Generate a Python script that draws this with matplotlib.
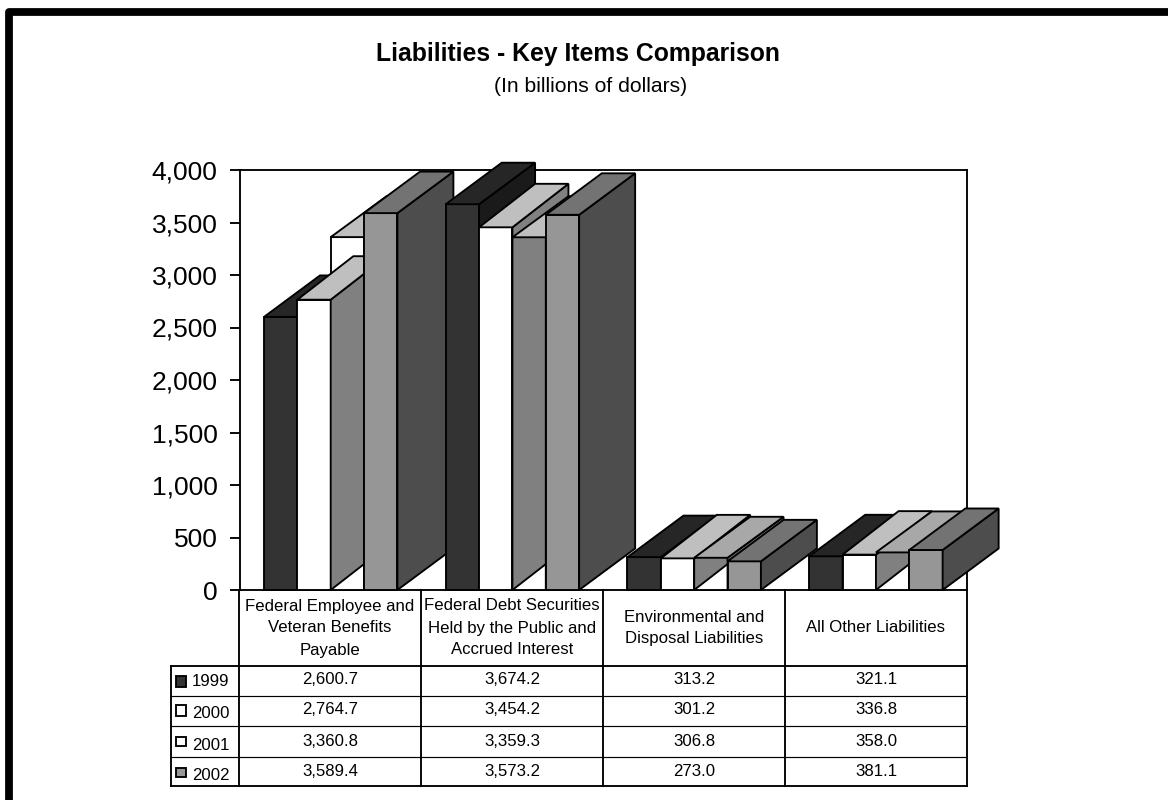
import matplotlib
matplotlib.use('Agg')
import matplotlib.pyplot as plt
from matplotlib.patches import Polygon, Rectangle

plt.rcParams['font.family'] = ['Liberation Sans', 'DejaVu Sans']

#__Datos__###############################
categorias = ['Federal Employee and\nVeteran Benefits\nPayable',
              'Federal Debt Securities\nHeld by the Public and\nAccrued Interest',
              'Environmental and\nDisposal Liabilities',
              'All Other Liabilities']
anios = ['1999', '2000', '2001', '2002']
v1999 = [2600.7, 3674.2, 313.2, 321.1]
v2000 = [2764.7, 3454.2, 301.2, 336.8]
v2001 = [3360.8, 3359.3, 306.8, 358.0]
v2002 = [3589.4, 3573.2, 273.0, 381.1]
yticks = [0, 500, 1000, 1500, 2000, 2500, 3000, 3500, 4000]
#########################################

#__Estilo__##############################
# (frente, arriba, costado)
c1999 = ('#333333', '#262626', '#1a1a1a')
c2000 = ('#ffffff', '#bfbfbf', '#808080')
c2001 = ('#ffffff', '#bfbfbf', '#808080')
c2002 = ('#969696', '#737373', '#4d4d4d')
top2001 = ['#bfbfbf', '#bfbfbf', '#a8a8a8', '#a8a8a8']
ANCHO = 0.1835
OFFSET = 0.132
DX = 56/181.75
DY1 = 41.5/0.105
DY2 = 43.5/0.105
DY3 = 41/0.105
LW = 1.35
#########################################

W, H = 1168, 800
fig = plt.figure(figsize=(W/100, H/100), dpi=100, facecolor='white')
ax = fig.add_axes([240/W, 1-590/H, 727/W, 420/H])
ax.set_xlim(0, 4)
ax.set_ylim(0, 4000)

# capa en pixeles para marco y tabla
capa = fig.add_axes([0, 0, 1, 1], zorder=5)
capa.set_xlim(0, W)
capa.set_ylim(H, 0)
capa.axis('off')
capa.patch.set_alpha(0)


def poly(pts, color):
    ax.add_patch(Polygon(pts, closed=True, facecolor=color, edgecolor='black',
                         linewidth=LW, joinstyle='miter', clip_on=False, zorder=4))


def frente(x, v, col):
    poly([(x, 0), (x+ANCHO, 0), (x+ANCHO, v), (x, v)], col[0])


def arriba(x, v, col, dy):
    poly([(x, v), (x+ANCHO, v), (x+ANCHO+DX, v+dy), (x+DX, v+dy)], col[1])


def costado(x, v, col, dy):
    poly([(x+ANCHO, 0), (x+ANCHO+DX, dy), (x+ANCHO+DX, v+dy), (x+ANCHO, v)], col[2])


def barra(x, v, col, dy):
    frente(x, v, col)
    costado(x, v, col, dy)
    arriba(x, v, col, dy)


#__Barras__##############################
# el orden raro (2001 partido) es como sale en el original
for i in range(4):
    x0 = i + OFFSET
    barra(x0, v1999[i], c1999, DY1)
    frente(x0+2*ANCHO, v2001[i], c2001)
    barra(x0+ANCHO, v2000[i], c2000, DY2)
    costado(x0+2*ANCHO, v2001[i], c2001, DY3)
    arriba(x0+2*ANCHO, v2001[i], (None, top2001[i]), DY3)
    barra(x0+3*ANCHO, v2002[i], c2002, DY1)
#########################################

#__Ejes__################################
ax.set_yticks(yticks)
ax.set_yticklabels(['{:,}'.format(v) for v in yticks], fontsize=19)
ax.set_xticks([])
ax.tick_params(axis='y', length=7.2, width=LW, pad=9)
for s in ax.spines.values():
    s.set_linewidth(LW)
#########################################

#__Titulos__#############################
fig.text(578/W, 1-54/H, 'Liabilities - Key Items Comparison', fontsize=17.8,
         fontweight='bold', ha='center', va='center')
fig.text(591/W, 1-86/H, '(In billions of dollars)', fontsize=15.2,
         ha='center', va='center')
#########################################

#__Marco__###############################
capa.plot([8.8, 8.8, W], [H, 12, 12], color='black', lw=5.6, solid_joinstyle='round',
          solid_capstyle='butt')
#########################################

#__Tabla__###############################
cols = [239, 421, 603, 785, 967]
filas = [665.5, 696, 726, 756.5, 786]
for c in cols:
    capa.plot([c, c], [590, filas[4]], 'k', lw=LW)
capa.plot([171, 967], [filas[0], filas[0]], 'k', lw=LW)
capa.plot([171, 967], [filas[4], filas[4]], 'k', lw=LW)
capa.plot([171, 171], [filas[0], filas[4]], 'k', lw=LW)
for f in filas[1:4]:
    capa.plot([171, 965], [f, f], 'k', lw=0.85)

cy = [606, 628, 650]
for i, cat in enumerate(categorias):
    xc = (cols[i]+cols[i+1])/2
    lineas = cat.split('\n')
    if len(lineas) == 3:
        ys = cy
    elif len(lineas) == 2:
        ys = [617, 639]
    else:
        ys = [628]
    for ln, yy in zip(lineas, ys):
        capa.text(xc, yy, ln, fontsize=12.1, ha='center', va='center')

series = [v1999, v2000, v2001, v2002]
colores = [c1999, c2000, c2001, c2002]
y_val = [680, 710, 741, 772]
y_lab = [682, 714, 745, 775]
y_key = [(676, 687), (705, 716), (737, 746), (768, 777)]
for j, anio in enumerate(anios):
    for i in range(4):
        capa.text((cols[i]+cols[i+1])/2, y_val[j], '{:,.1f}'.format(series[j][i]),
                  fontsize=12.1, ha='center', va='center')
    capa.text(192, y_lab[j], anio, fontsize=12.1, ha='left', va='center')
    y0, y1 = y_key[j]
    capa.add_patch(Rectangle((175.5, y0), 10, y1-y0, facecolor=colores[j][0],
                             edgecolor='black', linewidth=LW))
#########################################

fig.savefig('out.png', dpi=100)
